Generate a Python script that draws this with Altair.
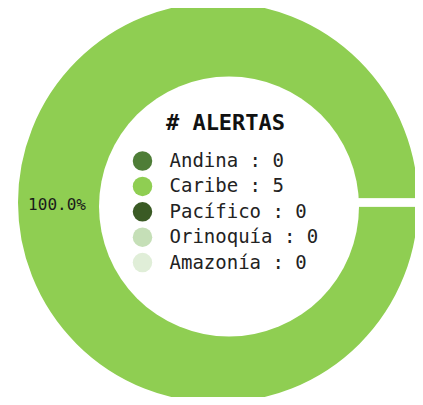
import math
import altair as alt
import pandas as pd

regiones = ["Andina", "Caribe", "Pacífico", "Orinoquía", "Amazonía"]
alertas = [0, 5, 0, 0, 0]
colores = ["#4e7d37", "#8fce52", "#3a5a24", "#c5dfb7", "#e0eed8"]

total = sum(alertas)
etiquetas = [f"{r} : {v}" for r, v in zip(regiones, alertas)]
porcentajes = [f"{v / total * 100:.1f}%" if v > 0 else "" for v in alertas]

df = pd.DataFrame({
    "region": etiquetas,
    "alertas": alertas,
    "pct": porcentajes,
    "orden": list(range(len(regiones))),
})

W, H = 407, 389
CX, CY = 210, 194.5    # ring centre
IX, IY = 221, 198.5    # hole centre

theta = alt.Theta(
    "alertas:Q", stack=True,
    scale=alt.Scale(range=[math.pi / 2, math.pi / 2 + 2 * math.pi]),
)
order = alt.Order("orden:Q")

ring = alt.Chart(df).mark_arc(
    outerRadius=204, innerRadius=0, stroke="white", strokeWidth=8
).encode(
    theta=theta,
    order=order,
    color=alt.Color(
        "region:N",
        sort=etiquetas,
        scale=alt.Scale(domain=etiquetas, range=colores),
        legend=alt.Legend(
            title="# ALERTAS",
            orient="none",
            legendX=124.5,
            legendY=105,
            titleFont="DejaVu Sans Mono",
            titleFontSize=22,
            titleFontWeight="bold",
            titleColor="#111111",
            titleAnchor="middle",
            titlePadding=16,
            labelFont="DejaVu Sans Mono",
            labelFontSize=19,
            labelColor="#222222",
            symbolType="circle",
            symbolSize=380,
            symbolStrokeWidth=0,
            symbolOpacity=1,
            rowPadding=5.4,
            labelOffset=17,
            padding=0,
        ),
    ),
    x=alt.value(CX),
    y=alt.value(CY),
)

hole = alt.Chart(df).mark_arc(outerRadius=130, color="white").encode(
    theta=theta,
    order=order,
    x=alt.value(IX),
    y=alt.value(IY),
)

label = alt.Chart(df).mark_text(
    radius=161, font="DejaVu Sans Mono", fontSize=16, color="#1a1a1a"
).encode(
    theta=theta,
    order=order,
    text="pct:N",
    x=alt.value(CX),
    y=alt.value(CY + 2.5),
)

chart = alt.layer(ring, hole, label).properties(
    width=W,
    height=H,
    autosize=alt.AutoSizeParams(type="none"),
    padding=0,
).configure_view(stroke=None)

chart.save("out.html", embed_options={"renderer": "svg", "actions": False})
